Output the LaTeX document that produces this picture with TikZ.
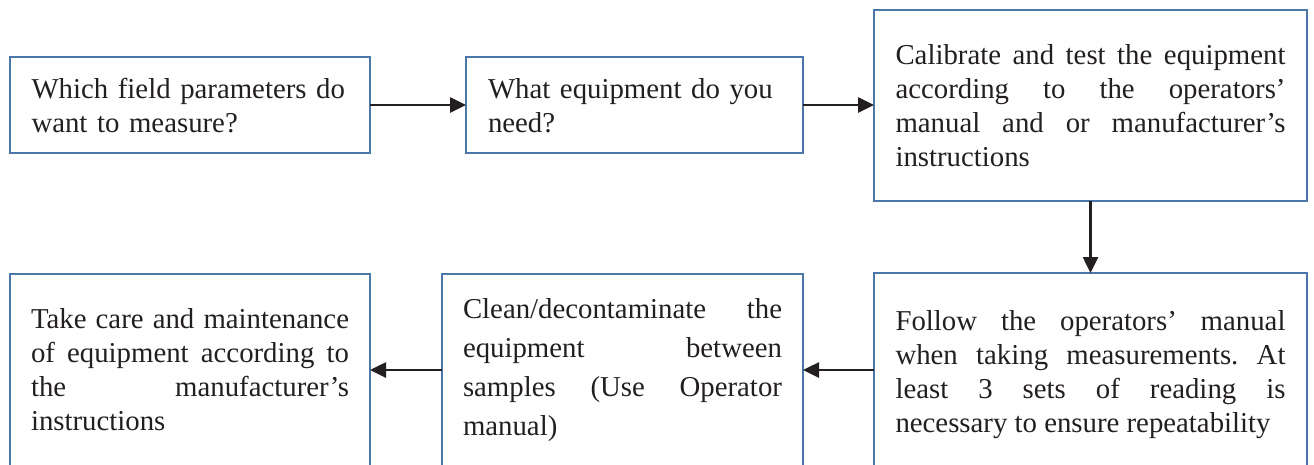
\documentclass[tikz,border=0pt]{standalone}
\usepackage{fontspec}
\setmainfont{Liberation Serif}
\usetikzlibrary{arrows.meta}
\definecolor{boxblue}{RGB}{74,118,168}
\definecolor{ink}{RGB}{35,31,32}
\hyphenpenalty=10000
\exhyphenpenalty=10000
\frenchspacing
\tikzset{
  stepbox/.style={draw=boxblue, line width=2.5pt, outer sep=0pt, inner ysep=0pt,
    anchor=north west, text=ink,
    font=\fontsize{28.8}{34}\selectfont},
  flow/.style={draw=ink, line width=2.6pt, -{Triangle[length=16pt,width=15pt]}}
}
\begin{document}
\begin{tikzpicture}[x=1pt,y=-1pt]
\useasboundingbox (0,0) rectangle (1314,464);
% upper row
\node[stepbox, align=left, text width=317pt, inner xsep=21.5pt,
      text height=41pt, text depth=55pt] (b1) at (10,57)
  {Which field parameters do\\ want to measure?};
\node[stepbox, align=left, text width=293pt, inner xsep=22pt,
      text height=41pt, text depth=55pt] (b2) at (466,57)
  {What equipment do you\\ need?};
\node[stepbox, align=justify, text width=390pt, inner xsep=21.5pt,
      text height=54pt, text depth=137pt] (b3) at (874,10)
  {Calibrate and test the equipment\linebreak according to the operators’\linebreak manual and or manufacturer’s\linebreak instructions};
% lower row
\node[stepbox, align=justify, text width=390pt, inner xsep=21.5pt,
      text height=57pt, text depth=137pt] (b6) at (874,273)
  {Follow the operators’ manual\linebreak when taking measurements. At\linebreak least 3 sets of reading is\linebreak necessary to ensure repeatability};
\node[stepbox, align=justify, text width=319pt, inner xsep=21pt,
      text height=44pt, text depth=148pt,
      font=\fontsize{28.8}{39}\selectfont] (b5) at (442,274)
  {Clean/decontaminate the\linebreak equipment between\linebreak samples (Use Operator\linebreak manual)};
\node[stepbox, align=justify, text width=318pt, inner xsep=21pt,
      text height=54pt, text depth=138pt] (b4) at (10,274)
  {Take care and maintenance\linebreak of equipment according to\linebreak the manufacturer’s\linebreak instructions};
% connectors
\draw[flow] (b1.east) -- (b2.west);
\draw[flow] (b2.east) -- (b2.east -| b3.west);
\draw[flow] (b3.south) -- (b6.north);
\draw[flow] (b6.west) -- (b5.east);
\draw[flow] (b5.west) -- (b4.east);
\end{tikzpicture}
\end{document}
